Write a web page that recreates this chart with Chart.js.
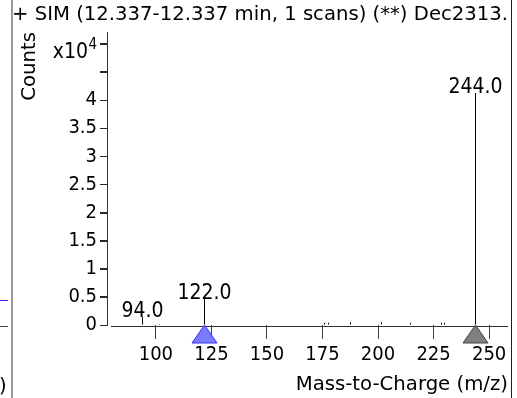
<!DOCTYPE html>
<html><head><meta charset="utf-8">
<script src="https://cdn.jsdelivr.net/npm/chart.js@4"></script>
<style>html,body{margin:0;padding:0;background:#fff;overflow:hidden}#wrap{width:517px;height:398px}</style>
</head><body><div id="wrap"><canvas id="c" width="517" height="398"></canvas></div>
<script>
// ---- data (counts in units of 10^4) ----
const titleText = '+ SIM (12.337-12.337 min, 1 scans) (**) Dec2313.';
const peakMz = [94.0, 101.5, 122.0, 176.1, 177.9, 187.7, 201.6, 214.7, 228.7, 229.8, 244.0];
const peakCounts = [0.142, 0.02, 0.462, 0.04, 0.04, 0.05, 0.05, 0.04, 0.04, 0.04, 4.124];
const labeledMz = [94.0, 122.0, 244.0];
const markerMz = [122.0, 244.0];
const markerFill = ['#7b7bff', '#808080'];
const markerStroke = ['#3030ff', '#404040'];
const xTicks = [100, 125, 150, 175, 200, 225, 250];
const yTicks = [0, 0.5, 1, 1.5, 2, 2.5, 3, 3.5, 4, 4.5, 5];
const yTickLabels = ['0', '0.5', '1', '1.5', '2', '2.5', '3', '3.5', '4', '', ''];

const FONT_TXT = "'DejaVu Sans', sans-serif";
const FONT_NUM = "'DejaVu Sans Condensed', 'DejaVu Sans', sans-serif";

const snap = v => Math.round(v - 0.5) + 0.5;

const decor = {
  id: 'decor',
  beforeDraw(chart) {
    const ctx = chart.ctx;
    ctx.save();
    ctx.fillStyle = '#fff';
    ctx.fillRect(0, 0, chart.width, chart.height);
    // neighbouring panel fragments
    ctx.fillStyle = '#2a2aff';
    ctx.fillRect(0, 300, 8, 1);
    ctx.fillStyle = '#404040';
    ctx.fillRect(0, 326, 8, 1);
    ctx.fillStyle = '#000';
    ctx.font = '19.7px ' + FONT_TXT;
    ctx.textAlign = 'left';
    ctx.textBaseline = 'alphabetic';
    ctx.fillText(')', -1, 392);
    // frame
    ctx.fillStyle = '#9a9a9a';
    ctx.fillRect(11, 0, 2, chart.height);
    ctx.fillStyle = '#202020';
    ctx.fillRect(511, 0, 1, chart.height);
    ctx.restore();
  },
  beforeDatasetsDraw(chart) {
    // snap 1px stems onto the pixel grid
    chart.getDatasetMeta(0).data.forEach(el => { el.x = snap(el.x); });
  },
  afterDraw(chart) {
    const ctx = chart.ctx;
    const xs = chart.scales.x, ys = chart.scales.y;
    const area = chart.chartArea;
    const axisY = Math.round(area.bottom) + 1;
    ctx.save();
    // x axis line (detached from y axis)
    ctx.fillStyle = '#333';
    const x0 = Math.round(xs.getPixelForValue(80));
    ctx.fillRect(x0, axisY, Math.round(area.right) - x0, 1);
    // peak labels
    ctx.fillStyle = '#000';
    ctx.font = '21px ' + FONT_NUM;
    ctx.textAlign = 'center';
    ctx.textBaseline = 'alphabetic';
    labeledMz.forEach(m => {
      const i = peakMz.indexOf(m);
      const px = snap(xs.getPixelForValue(m));
      const py = ys.getPixelForValue(peakCounts[i]);
      ctx.fillText(m.toFixed(1), px, py);
    });
    // marker triangles
    markerMz.forEach((m, k) => {
      const px = snap(xs.getPixelForValue(m));
      ctx.beginPath();
      ctx.moveTo(px, axisY - 1);
      ctx.lineTo(px + 12.5, axisY + 17);
      ctx.lineTo(px - 12.5, axisY + 17);
      ctx.closePath();
      ctx.fillStyle = markerFill[k];
      ctx.fill();
      ctx.strokeStyle = markerStroke[k];
      ctx.lineWidth = 1;
      ctx.stroke();
    });
    // y tick marks (short, outside the plot)
    ctx.fillStyle = '#2a2a2a';
    yTicks.forEach(v => {
      const py = Math.round(ys.getPixelForValue(v));
      ctx.fillRect(Math.round(area.left) - 7, py, 7, 1);
    });
    // multiplier label at the top tick
    const y5 = ys.getPixelForValue(5);
    ctx.fillStyle = '#000';
    ctx.textAlign = 'right';
    ctx.font = '21px ' + FONT_NUM;
    ctx.textBaseline = 'alphabetic';
    ctx.fillText('x10', 88, y5 + 14);
    ctx.font = '15px ' + FONT_NUM;
    ctx.textBaseline = 'middle';
    ctx.fillText('4', 97, y5 + 1);
    ctx.restore();
  }
};

new Chart(document.getElementById('c'), {
  type: 'bar',
  data: {
    datasets: [{
      data: peakMz.map((m, i) => ({ x: m, y: peakCounts[i] })),
      backgroundColor: '#000',
      borderWidth: 0,
      barThickness: 1,
      inflateAmount: 0
    }]
  },
  options: {
    responsive: false,
    animation: false,
    devicePixelRatio: 1,
    layout: { padding: { left: 12, right: 9, top: 0, bottom: 0 } },
    plugins: {
      legend: { display: false },
      tooltip: { enabled: false },
      title: {
        display: true, text: titleText, align: 'start', color: '#000',
        font: { family: FONT_TXT, size: 19.7, weight: 'normal' },
        padding: { top: 3, bottom: 5.4 }
      }
    },
    scales: {
      x: {
        type: 'linear', min: 78, max: 258.5, offset: false,
        afterBuildTicks: s => { s.ticks = xTicks.map(v => ({ value: v })); },
        afterFit: s => { s.height = 73; },
        grid: { display: true, drawOnChartArea: false, drawTicks: true, tickLength: 14, color: '#404040', offset: false },
        border: { display: false },
        ticks: { color: '#000', font: { family: FONT_NUM, size: 20 }, padding: 4, maxRotation: 0, autoSkip: false },
        title: { display: true, text: 'Mass-to-Charge (m/z)', align: 'end', color: '#000',
          font: { family: FONT_TXT, size: 19.7 }, padding: { top: 0, bottom: 1 } }
      },
      y: {
        min: 0, max: 5.21,
        afterBuildTicks: s => { s.ticks = yTicks.map(v => ({ value: v })); },
        afterFit: s => { s.width = 95; },
        grid: { drawOnChartArea: false, drawTicks: true, tickLength: 7, color: '#2a2a2a' },
        border: { display: true, color: '#333' },
        ticks: { color: '#000', font: { family: FONT_NUM, size: 20 }, padding: 3, autoSkip: false,
          callback: (v, i) => yTickLabels[i] },
        title: { display: true, text: 'Counts', align: 'end', color: '#000',
          font: { family: FONT_TXT, size: 19.7 }, padding: { top: 6, bottom: 0 } }
      }
    }
  },
  plugins: [decor]
});
</script>
</body></html>
